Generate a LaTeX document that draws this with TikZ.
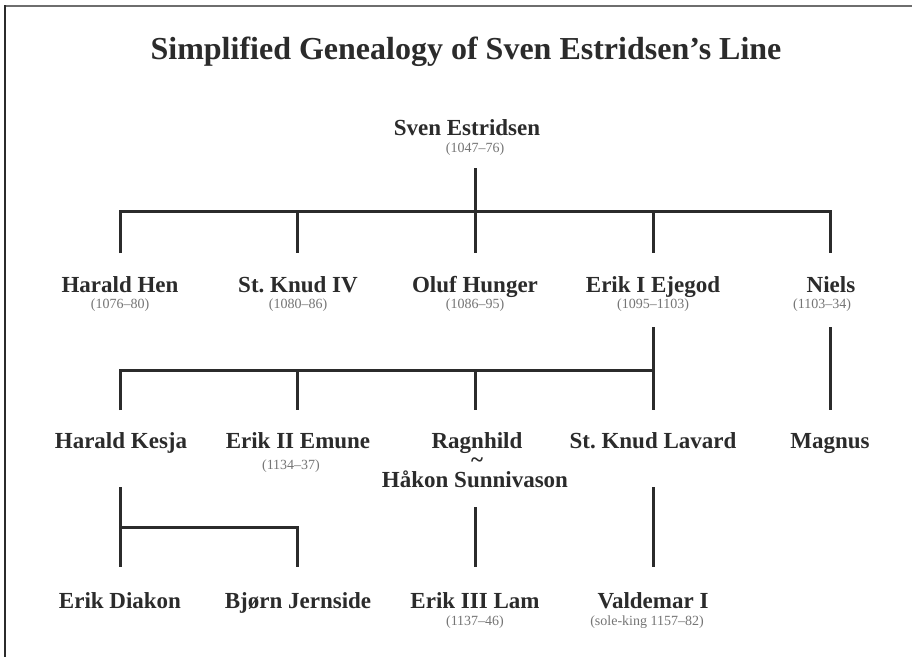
\documentclass[tikz,border=0pt]{standalone}
\usepackage{fontspec}
\setmainfont{Liberation Serif}
\definecolor{ink}{HTML}{2B2B2B}
\definecolor{datec}{HTML}{757575}
\definecolor{framec}{HTML}{6E6E6E}
\frenchspacing
\begin{document}
\begin{tikzpicture}[x=1pt,y=-1pt,
  person/.style={font=\fontsize{23}{25}\selectfont\bfseries, text=ink, inner sep=0pt, anchor=base},
  datelabel/.style={font=\fontsize{14}{16}\selectfont, text=datec, inner sep=0pt, anchor=base},
  titlelabel/.style={font=\fontsize{32}{35}\selectfont\bfseries, text=ink, inner sep=0pt, anchor=base},
  link/.style={draw=ink, line width=3pt},
  framel/.style={line width=2pt}]
\useasboundingbox (0,0) rectangle (912,657);
\fill[white] (0,0) rectangle (912,657);
% frame
\draw[framel, draw=framec] (4,5.5) -- (912,5.5);
\draw[line width=1.5pt, draw=ink] (5,5) -- (5,657);

\node[titlelabel] (title) at (466,59) {Simplified Genealogy of Sven Estridsen’s Line};

% generation 0
\node[person] (sven) at (467,135) {Sven Estridsen};
\node[datelabel] (svend) at (475,152) {(1047–76)};

% generation 1
\node[person] (harald) at (120,292) {Harald Hen};
\node[datelabel] (haraldd) at (120,308) {(1076–80)};
\node[person] (knud) at (298,292) {St. Knud IV};
\node[datelabel] (knudd) at (298,308) {(1080–86)};
\node[person] (oluf) at (475,292) {Oluf Hunger};
\node[datelabel] (olufd) at (475,308) {(1086–95)};
\node[person] (erik) at (653,292) {Erik I Ejegod};
\node[datelabel] (erikd) at (653,308) {(1095–1103)};
\node[person] (niels) at (831,292) {Niels};
\node[datelabel] (nielsd) at (822,308) {(1103–34)};

% generation 2
\node[person] (kesja) at (121,448) {Harald Kesja};
\node[person] (emune) at (298,448) {Erik II Emune};
\node[datelabel] (emuned) at (291,469) {(1134–37)};
\node[person] (ragn) at (477,448) {Ragnhild};
\node[person] (tilde) at (477,467) {\smash{\char`\~}};
\node[person] (hakon) at (475,487) {Håkon Sunnivason};
\node[person] (lavard) at (653,448) {St. Knud Lavard};
\node[person] (magnus) at (830,448) {Magnus};

% generation 3
\node[person] (diakon) at (120,608) {Erik Diakon};
\node[person] (bjorn) at (298,608) {Bjørn Jernside};
\node[person] (lam) at (475,608) {Erik III Lam};
\node[datelabel] (lamd) at (475,625) {(1137–46)};
\node[person] (valdemar) at (653,608) {Valdemar I};
\node[datelabel] (valdemard) at (647,625) {(sole-king 1157–82)};

% connector points
\coordinate (s0) at (475,168);
\coordinate (s1) at (475,211);
\coordinate (b1l) at (120,211);
\coordinate (b1r) at (830,211);
\coordinate (h1) at (120,253);
\coordinate (k1) at (297,253);
\coordinate (o1) at (475,253);
\coordinate (e1) at (653,253);
\coordinate (n1) at (830,253);
\coordinate (k1t) at (297,211);
\coordinate (e1t) at (653,211);

\coordinate (e2) at (653,327);
\coordinate (e2b) at (653,370);
\coordinate (b2l) at (120,370);
\coordinate (n2) at (830,327);
\coordinate (n2b) at (830,410);
\coordinate (kes1) at (120,410);
\coordinate (emu1) at (297,410);
\coordinate (emu1t) at (297,370);
\coordinate (rag1) at (475,410);
\coordinate (rag1t) at (475,370);
\coordinate (lav1) at (653,410);

\coordinate (kes2) at (120,487);
\coordinate (kes2m) at (120,527);
\coordinate (dia1) at (120,567);
\coordinate (bjo1t) at (297,527);
\coordinate (bjo1) at (297,567);
\coordinate (hak2) at (475,507);
\coordinate (lam1) at (475,567);
\coordinate (lav2) at (653,487);
\coordinate (val1) at (653,567);

\draw[link] (s0) -- (o1);
\draw[link] (h1) -- (b1l) -- (b1r) -- (n1);
\draw[link] (k1t) -- (k1);
\draw[link] (e1t) -- (e1);

\draw[link] (e2) -- (lav1);
\draw[link] (kes1) -- (b2l) -- (e2b);
\draw[link] (emu1t) -- (emu1);
\draw[link] (rag1t) -- (rag1);
\draw[link] (n2) -- (n2b);

\draw[link] (kes2) -- (dia1);
\draw[link] (kes2m) -- (bjo1t) -- (bjo1);
\draw[link] (hak2) -- (lam1);
\draw[link] (lav2) -- (val1);
\end{tikzpicture}
\end{document}
